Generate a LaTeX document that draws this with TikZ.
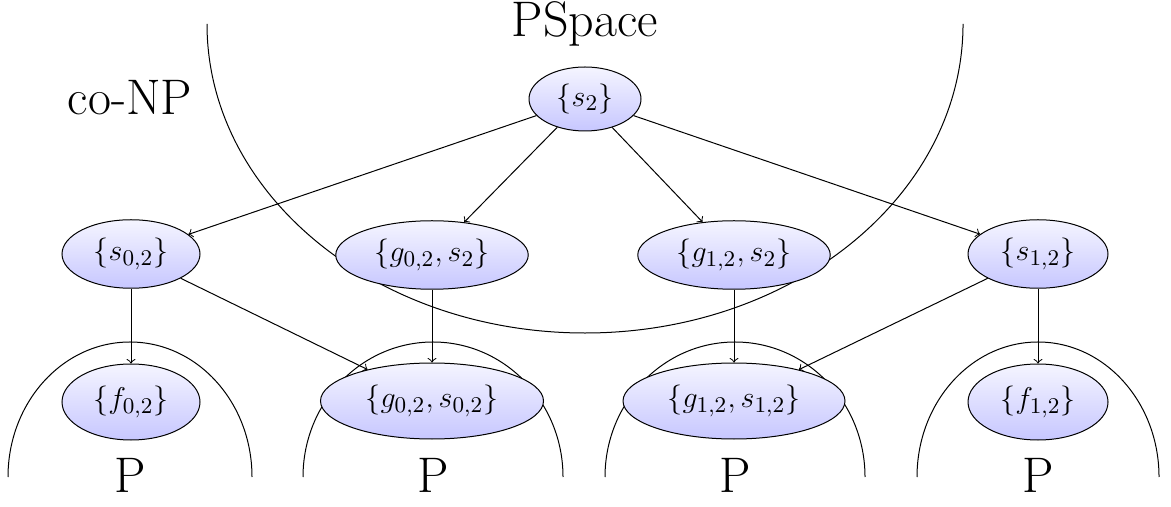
\documentclass[tikz,border=0pt]{standalone}
\usetikzlibrary{shapes.geometric}
\begin{document}
\begin{tikzpicture}[x=0.4pt,y=0.4pt,
  setnode/.style={ellipse, draw, inner sep=0pt, top color=blue!4, bottom color=blue!22,
    font=\fontsize{12.4}{14}\selectfont},
  rowtwo/.style={minimum height=27.4pt},
  rowthree/.style={minimum height=30.4pt},
  biglabel/.style={anchor=base, inner sep=0pt, font=\fontsize{20}{24}\selectfont},
  arr/.style={->},
  region/.style={draw, line width=0.4pt}]
\useasboundingbox (0,0) rectangle (1171,506);
% regions
\draw[region] (207,482) arc[start angle=180, end angle=360, x radius=151.2pt, y radius=123.6pt];
\draw[region] (8,29) arc[start angle=180, end angle=0, x radius=48.8pt, y radius=54pt];
\draw[region] (303,29) arc[start angle=180, end angle=0, x radius=52pt, y radius=54pt];
\draw[region] (605,29) arc[start angle=180, end angle=0, x radius=52pt, y radius=54pt];
\draw[region] (917,29) arc[start angle=180, end angle=0, x radius=48.4pt, y radius=54pt];
% labels
\node[biglabel] (lps) at (585,469) {PSpace};
\node[biglabel] (lco) at (130,391) {co-NP};
\node[biglabel] (lp1) at (130,13) {P};
\node[biglabel] (lp2) at (433,13) {P};
\node[biglabel] (lp3) at (735,13) {P};
\node[biglabel] (lp4) at (1038,13) {P};
% nodes
\node[setnode, minimum width=44.8pt, minimum height=25.6pt] (s2) at (585,407) {$\{s_2\}$};
\node[setnode, rowtwo, minimum width=55.2pt] (s02) at (131,252) {$\{s_{0,2}\}$};
\node[setnode, rowtwo, minimum width=77pt] (g02s2) at (432,251) {$\{g_{0,2}, s_2\}$};
\node[setnode, rowtwo, minimum width=77pt] (g12s2) at (734,251) {$\{g_{1,2}, s_2\}$};
\node[setnode, rowtwo, minimum width=56pt] (s12) at (1038,252) {$\{s_{1,2}\}$};
\node[setnode, rowthree, minimum width=55.2pt] (f02) at (131,104) {$\{f_{0,2}\}$};
\node[setnode, rowthree, minimum width=89.2pt] (g02s02) at (432,105) {$\{g_{0,2}, s_{0,2}\}$};
\node[setnode, rowthree, minimum width=88.8pt] (g12s12) at (734,105) {$\{g_{1,2}, s_{1,2}\}$};
\node[setnode, rowthree, minimum width=56pt] (f12) at (1038,104) {$\{f_{1,2}\}$};
% edges
\draw[arr] (s2) -- (s02);
\draw[arr] (s2) -- (g02s2);
\draw[arr] (s2) -- (g12s2);
\draw[arr] (s2) -- (s12);
\draw[arr] (s02) -- (f02);
\draw[arr] (s02) -- (g02s02);
\draw[arr] (g02s2) -- (g02s02);
\draw[arr] (g12s2) -- (g12s12);
\draw[arr] (s12) -- (g12s12);
\draw[arr] (s12) -- (f12);
\end{tikzpicture}
\end{document}
